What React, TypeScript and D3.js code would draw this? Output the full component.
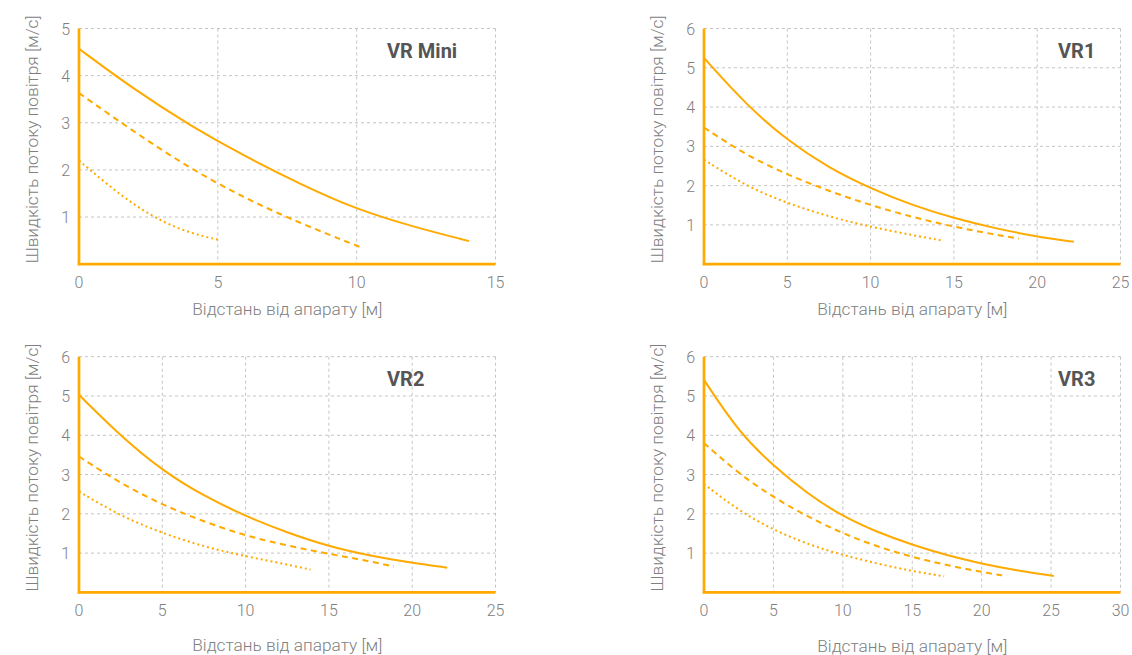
import React, { useRef, useEffect } from 'react';
import * as d3 from 'd3';

// моделі
const models = ['VR Mini', 'VR1', 'VR2', 'VR3'];
const xMaxes = [15, 25, 25, 30];
const yMaxes = [5, 6, 6, 6];

// швидкість [м/с] на відстані [м], три режими для кожної моделі
const miniSolidX = [0, 2, 4, 6, 8, 10, 12, 14.05];
const miniSolidY = [4.57, 3.7, 2.94, 2.28, 1.69, 1.16, 0.8, 0.49];
const miniDashX = [0, 2, 4, 6, 8, 10.1];
const miniDashY = [3.63, 2.8, 2.03, 1.39, 0.86, 0.37];
const miniDotX = [0, 1, 2, 3, 4, 5];
const miniDotY = [2.2, 1.7, 1.25, 0.9, 0.66, 0.52];

const vr1SolidX = [0, 2.5, 5, 7.5, 10, 12.5, 15, 17.5, 20, 22.2];
const vr1SolidY = [5.25, 4.07, 3.15, 2.45, 1.93, 1.5, 1.17, 0.91, 0.7, 0.57];
const vr1DashX = [0, 2.5, 5, 7.5, 10, 12.5, 15, 17.5, 18.9];
const vr1DashY = [3.48, 2.78, 2.28, 1.86, 1.5, 1.2, 0.95, 0.75, 0.65];
const vr1DotX = [0, 2.5, 5, 7.5, 10, 12.5, 14.2];
const vr1DotY = [2.66, 1.99, 1.55, 1.21, 0.95, 0.74, 0.61];

const vr2SolidX = [0, 2.5, 5, 7.5, 10, 12.5, 15, 17.5, 20, 22.1];
const vr2SolidY = [5.03, 3.98, 3.1, 2.45, 1.94, 1.52, 1.17, 0.93, 0.75, 0.63];
const vr2DashX = [0, 2.5, 5, 7.5, 10, 12.5, 15, 17.5, 18.9];
const vr2DashY = [3.46, 2.77, 2.23, 1.8, 1.44, 1.19, 0.98, 0.79, 0.66];
const vr2DotX = [0, 2.5, 5, 7.5, 10, 12.5, 13.9];
const vr2DotY = [2.57, 1.94, 1.51, 1.16, 0.92, 0.71, 0.58];

const vr3SolidX = [0, 2.5, 5, 7.5, 10, 12.5, 15, 17.5, 20, 22.5, 25.2];
const vr3SolidY = [5.41, 4.08, 3.22, 2.5, 1.93, 1.53, 1.21, 0.94, 0.73, 0.56, 0.42];
const vr3DashX = [0, 2.5, 5, 7.5, 10, 12.5, 15, 17.5, 20, 21.7];
const vr3DashY = [3.8, 3.02, 2.42, 1.92, 1.5, 1.16, 0.9, 0.69, 0.52, 0.42];
const vr3DotX = [0, 2.5, 5, 7.5, 10, 12.5, 15, 17.3];
const vr3DotY = [2.76, 2.08, 1.59, 1.22, 0.95, 0.73, 0.54, 0.41];

const seriesX = [
  [miniSolidX, miniDashX, miniDotX],
  [vr1SolidX, vr1DashX, vr1DotX],
  [vr2SolidX, vr2DashX, vr2DotX],
  [vr3SolidX, vr3DashX, vr3DotX],
];
const seriesY = [
  [miniSolidY, miniDashY, miniDotY],
  [vr1SolidY, vr1DashY, vr1DotY],
  [vr2SolidY, vr2DashY, vr2DotY],
  [vr3SolidY, vr3DashY, vr3DotY],
];

const xTitle = 'Відстань від апарату [м]';
const yTitle = 'Швидкість потоку повітря [м/с]';

const ORANGE = '#FFAA00';
const FONT = 'Roboto, "Noto Sans", sans-serif';

// розміщення панелей
const panelLeft = [79, 704, 79, 704];
const panelTop = [28.5, 28.5, 356.7, 356.7];
const titleBaseline = [315, 315, 651, 652];
const titleLeft = [387, 1058, 387, 1058];
const plotW = 416.5;
const plotH = 235.7;
const lineDash = [null, '6,4.5', '2,3'];

const App: React.FC = () => {
  const svgRef = useRef<SVGSVGElement>(null);

  useEffect(() => {
    if (!svgRef.current) return;
    const svg = d3.select(svgRef.current);
    svg.selectAll('*').remove();

    models.forEach((name, p) => {
      const g = svg.append('g')
        .attr('transform', `translate(${panelLeft[p]},${panelTop[p]})`);

      const x = d3.scaleLinear().domain([0, xMaxes[p]]).range([0, plotW]);
      const y = d3.scaleLinear().domain([0, yMaxes[p]]).range([plotH, 0]);

      const xTicks = d3.range(0, xMaxes[p] + 0.1, 5);
      const yTicks = d3.range(1, yMaxes[p] + 0.1, 1);

      // сітка
      g.append('g')
        .selectAll('line')
        .data(xTicks.slice(1))
        .join('line')
        .attr('x1', d => x(d)).attr('x2', d => x(d))
        .attr('y1', 0).attr('y2', plotH)
        .attr('stroke', '#c4c4c4')
        .attr('stroke-width', 1)
        .attr('stroke-dasharray', '3,3');

      g.append('g')
        .selectAll('line')
        .data(yTicks)
        .join('line')
        .attr('x1', 0).attr('x2', plotW)
        .attr('y1', d => y(d)).attr('y2', d => y(d))
        .attr('stroke', '#c4c4c4')
        .attr('stroke-width', 1)
        .attr('stroke-dasharray', '3,3');

      // криві
      const line = d3.line<[number, number]>()
        .x(d => x(d[0]))
        .y(d => y(d[1]))
        .curve(d3.curveBasis);

      seriesX[p].forEach((xs, s) => {
        const pts = xs.map((v, i) => [v, seriesY[p][s][i]] as [number, number]);
        const path = g.append('path')
          .datum(pts)
          .attr('fill', 'none')
          .attr('stroke', ORANGE)
          .attr('stroke-width', 2)
          .attr('d', line);
        if (lineDash[s]) path.attr('stroke-dasharray', lineDash[s] as string);
      });

      // осі
      g.append('line')
        .attr('x1', 0).attr('x2', 0)
        .attr('y1', 0).attr('y2', plotH + 1)
        .attr('stroke', ORANGE).attr('stroke-width', 2.7);
      g.append('line')
        .attr('x1', -1.3).attr('x2', plotW)
        .attr('y1', plotH).attr('y2', plotH)
        .attr('stroke', ORANGE).attr('stroke-width', 2.7);

      // підписи поділок
      g.append('g')
        .selectAll('text')
        .data(xTicks)
        .join('text')
        .attr('x', d => x(d))
        .attr('y', plotH + 24)
        .attr('text-anchor', 'middle')
        .style('font-family', FONT)
        .style('font-weight', 300)
        .style('font-size', '16px')
        .style('fill', '#808080')
        .text(d => String(d));

      g.append('g')
        .selectAll('text')
        .data(yTicks)
        .join('text')
        .attr('x', -9)
        .attr('y', d => y(d) + 6)
        .attr('text-anchor', 'end')
        .style('font-family', FONT)
        .style('font-weight', 300)
        .style('font-size', '16px')
        .style('fill', '#808080')
        .text(d => String(d));

      // назва моделі
      svg.append('text')
        .attr('x', titleLeft[p])
        .attr('y', panelTop[p] + 29.5)
        .style('font-family', FONT)
        .style('font-weight', 700)
        .style('font-size', '20px')
        .style('fill', '#555555')
        .text(name);

      // назви осей
      svg.append('text')
        .attr('x', panelLeft[p] + plotW / 2)
        .attr('y', titleBaseline[p])
        .attr('text-anchor', 'middle')
        .style('font-family', FONT)
        .style('font-weight', 300)
        .style('font-size', '17.3px')
        .style('fill', '#808080')
        .text(xTitle);

      svg.append('text')
        .attr('transform', `translate(${panelLeft[p] - 41.5},${panelTop[p] + plotH / 2 - 7}) rotate(-90)`)
        .attr('text-anchor', 'middle')
        .style('font-family', FONT)
        .style('font-weight', 300)
        .style('font-size', '17.3px')
        .style('fill', '#808080')
        .text(yTitle);
    });
  }, []);

  return (
    <svg
      ref={svgRef}
      width={1132}
      height={655}
      style={{ position: 'absolute', left: 0, top: 0, background: '#ffffff' }}
    />
  );
};

export default App;
